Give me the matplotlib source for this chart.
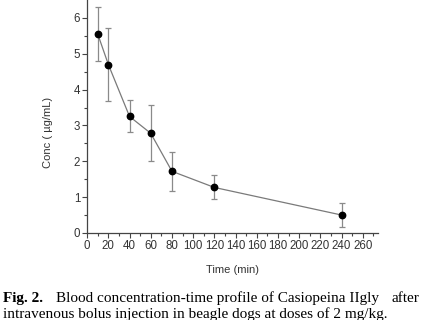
import numpy as np
import matplotlib.pyplot as plt

# data
time_min = [10, 20, 40, 60, 80, 120, 240]
conc = [5.55, 4.70, 3.25, 2.78, 1.72, 1.27, 0.50]
err_low = [0.75, 1.03, 0.43, 0.78, 0.55, 0.32, 0.33]
err_high = [0.75, 1.03, 0.46, 0.79, 0.55, 0.35, 0.34]

x_ticks = list(range(0, 261, 20))
y_ticks = [0, 1, 2, 3, 4, 5, 6]

plt.rcParams['font.family'] = ['Liberation Sans', 'DejaVu Sans']

fig = plt.figure(figsize=(4.21, 3.20), dpi=100)
ax = fig.add_axes([0.207, 0.272, 0.690, 0.728])

ax.errorbar(time_min, conc, yerr=[err_low, err_high], fmt='none',
            ecolor='#8a8a8a', elinewidth=0.9, capsize=2.5, capthick=0.9)
ax.plot(time_min, conc, '-', color='#7a7a7a', lw=0.9)
ax.plot(time_min, conc, 'o', color='black', ms=4.6)

ax.set_xlim(0, 274)
ax.set_ylim(0, 6.5)
ax.set_xticks(x_ticks)
ax.set_yticks(y_ticks)
ax.set_xticks(np.arange(10, 271, 20), minor=True)
ax.set_yticks(np.arange(0.5, 6.5, 1.0), minor=True)
ax.tick_params(which='major', direction='out', length=3.5, width=0.8,
               labelsize=8.3, pad=1.5, color='#444444', labelcolor='#333333')
ax.tick_params(which='minor', direction='out', length=2, width=0.8,
               color='#444444')

for side in ['top', 'right']:
    ax.spines[side].set_visible(False)
for side in ['left', 'bottom']:
    ax.spines[side].set_linewidth(0.9)
    ax.spines[side].set_color('#444444')

fig.text(0.553, 0.155, 'Time (min)', ha='center', va='center',
         fontsize=8, color='#333333')
fig.text(0.115, 0.585, 'Conc ( \u00b5g/mL)', ha='center', va='center',
         rotation=90, fontsize=8, color='#333333')

# caption, first line justified by splitting it in three parts
serif = ['Liberation Serif', 'DejaVu Serif']
fig.text(0.008, 0.068, 'Fig. 2.', ha='left', va='center', fontsize=11,
         fontweight='bold', family=serif)
fig.text(0.133, 0.068, 'Blood concentration-time profile of Casiopeina IIgly',
         ha='left', va='center', fontsize=11, family=serif)
fig.text(0.995, 0.068, 'after', ha='right', va='center', fontsize=11,
         family=serif)
fig.text(0.008, 0.018,
         'intravenous bolus injection in beagle dogs at doses of 2 mg/kg.',
         ha='left', va='center', fontsize=11, family=serif)

fig.savefig('out.png', dpi=100)
